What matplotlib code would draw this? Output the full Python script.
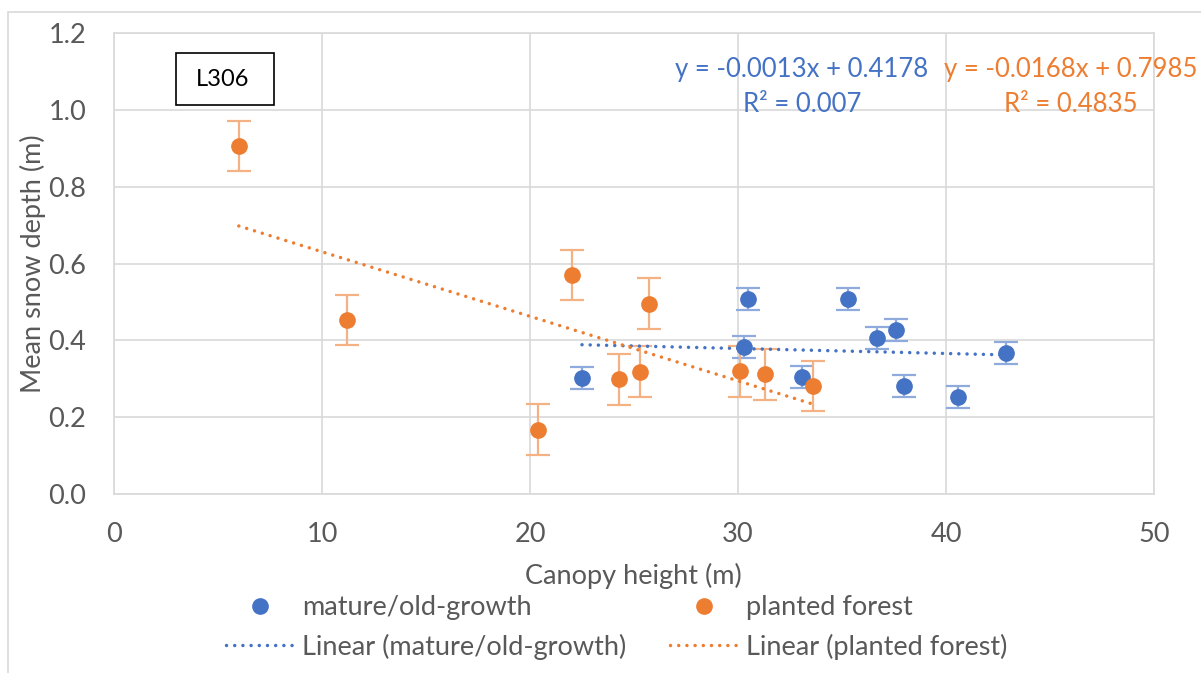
import numpy as np
import matplotlib
matplotlib.use("Agg")
import matplotlib.pyplot as plt
from matplotlib.lines import Line2D
from matplotlib.patches import Rectangle

# --- data -----------------------------------------------------------------
mature_x = [22.5, 30.5, 30.3, 33.1, 35.3, 36.7, 37.6, 38.0, 40.6, 42.9]
mature_y = [0.302, 0.508, 0.383, 0.305, 0.508, 0.406, 0.427, 0.281, 0.253, 0.367]

planted_x = [6.0, 11.2, 20.4, 22.0, 24.3, 25.3, 25.7, 30.1, 31.3, 33.6]
planted_y = [0.906, 0.453, 0.167, 0.570, 0.299, 0.318, 0.495, 0.320, 0.312, 0.281]

# linear fits: slope, intercept, R^2
mature_fit = [-0.0013, 0.4178]
mature_r2 = 0.007
planted_fit = [-0.0168, 0.7985]
planted_r2 = 0.4835

x_ticks = [0, 10, 20, 30, 40, 50]
y_ticks = [0.0, 0.2, 0.4, 0.6, 0.8, 1.0, 1.2]

site_label = "L306"
series_names = ["mature/old-growth", "planted forest"]

# --- style ----------------------------------------------------------------
BLUE = "#4472C4"
ORANGE = "#ED7D31"
BLUE_ERR = "#8FAADC"
ORANGE_ERR = "#F4B183"
GRID = "#D9D9D9"
TEXT = "#595959"
FS = 19.5

plt.rcParams["font.family"] = ["Lato", "DejaVu Sans"]

W, H = 1201, 673
fig = plt.figure(figsize=(W / 100, H / 100), dpi=100)


def fx(px):
    return px / W


def fy(py):
    return 1 - py / H


ax = fig.add_axes([fx(114), fy(494), fx(1154) - fx(114), fy(33) - fy(494)])

# outer chart border
fig.patches.append(Rectangle((fx(8), -0.2), 1.5, fy(12) + 0.2, transform=fig.transFigure,
                             fill=False, edgecolor=GRID, linewidth=1.2))


def std_err(v):
    v = np.asarray(v)
    return np.std(v, ddof=1) / np.sqrt(len(v))


mature_err = std_err(mature_y)
planted_err = std_err(planted_y)

ax.errorbar(mature_x, mature_y, yerr=mature_err, fmt="o", color=BLUE, ecolor=BLUE_ERR,
            elinewidth=1.6, capsize=8.5, capthick=1.6, markersize=11, zorder=3)
ax.errorbar(planted_x, planted_y, yerr=planted_err, fmt="o", color=ORANGE, ecolor=ORANGE_ERR,
            elinewidth=1.6, capsize=8.5, capthick=1.6, markersize=11, zorder=3)

dot_style = (0, (0.01, 2.35))
for xs, (m, b), col in [(mature_x, mature_fit, BLUE), (planted_x, planted_fit, ORANGE)]:
    xl = np.array([min(xs), max(xs)])
    ax.plot(xl, m * xl + b, color=col, linewidth=2.5, linestyle=dot_style,
            dash_capstyle="round", zorder=4)

ax.set_xlim(0, 50)
ax.set_ylim(0, 1.2)
ax.set_xticks(x_ticks)
ax.set_yticks(y_ticks)
ax.set_xticklabels([str(t) for t in x_ticks])
ax.set_yticklabels([f"{t:.1f}" for t in y_ticks])
ax.tick_params(length=0, labelsize=FS, labelcolor=TEXT, pad=20)
ax.grid(True, color=GRID, linewidth=1.2)
ax.set_axisbelow(True)
for s in ax.spines.values():
    s.set_color(GRID)
    s.set_linewidth(1.2)

# axis titles
fig.text(fx(633), fy(576), "Canopy height (m)", ha="center", va="center",
         fontsize=FS, color=TEXT)
fig.text(fx(33), fy(264), "Mean snow depth (m)", ha="center", va="center",
         rotation=90, fontsize=FS, color=TEXT)

# trendline equations
for (m, b), r2, col, cx in [(mature_fit, mature_r2, BLUE, 802),
                            (planted_fit, planted_r2, ORANGE, 1071)]:
    fig.text(fx(cx), fy(70), f"y = {m:.4f}x + {b:.4f}", ha="center", va="center",
             fontsize=18.5, color=col)
    fig.text(fx(cx), fy(104), f"R² = {r2}", ha="center", va="center",
             fontsize=18.5, color=col)

# site label box
fig.patches.append(Rectangle((fx(176), fy(105)), fx(274) - fx(176), fy(53) - fy(105),
                             transform=fig.transFigure, fill=False, edgecolor="black",
                             linewidth=1.2))
fig.text(fx(223), fy(80), site_label, ha="center", va="center", fontsize=17, color="black")

# legend: two columns, each with marker row and trendline row
for col, name, left in [(BLUE, series_names[0], 226), (ORANGE, series_names[1], 670)]:
    handles = [
        Line2D([], [], marker="o", linestyle="none", color=col, markersize=11),
        Line2D([], [], color=col, linewidth=2.5, linestyle=(0, (0.01, 2.35)),
               dash_capstyle="round"),
    ]
    labels = [name, f"Linear ({name})"]
    fig.legend(handles, labels, loc="upper left", bbox_to_anchor=(fx(left), fy(595)),
               bbox_transform=fig.transFigure, frameon=False, fontsize=FS,
               labelcolor=TEXT, handlelength=2.5, handletextpad=0.32,
               borderpad=0, borderaxespad=0, labelspacing=0.5)

fig.savefig("out.png", dpi=100)
